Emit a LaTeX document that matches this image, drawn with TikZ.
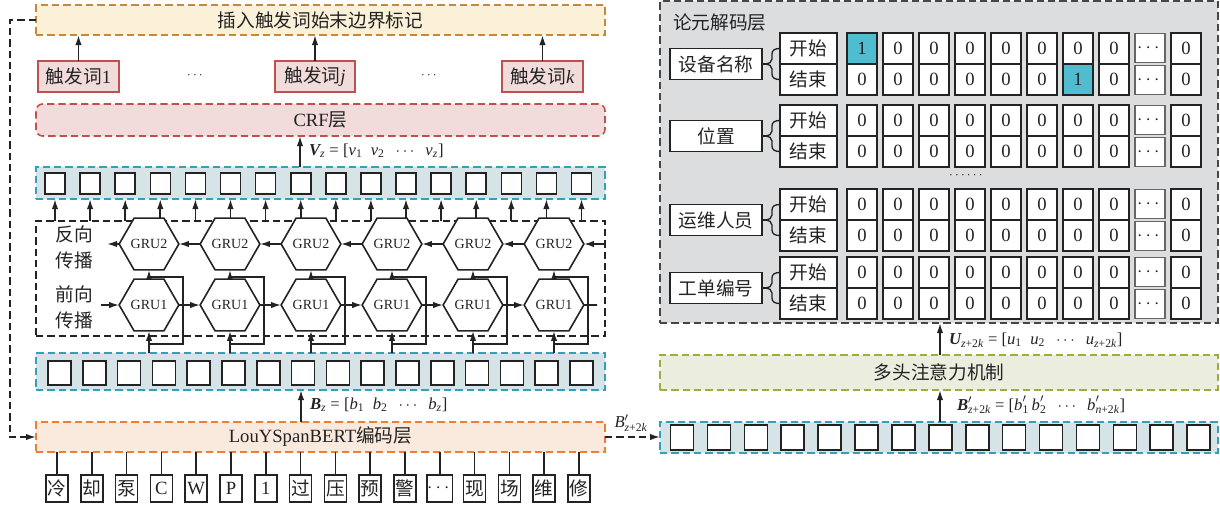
\documentclass[tikz,border=0pt]{standalone}
\usepackage{amsmath}
\usepackage{fontspec}
\setmainfont{Liberation Serif}
\newfontfamily\cjk{Noto Sans CJK SC}
\usetikzlibrary{arrows.meta,shapes.geometric,calc}
\newcommand{\mi}[1]{\text{\itshape #1}}
\newcommand{\mbi}[1]{\text{\bfseries\itshape #1}}
\newcommand{\tx}[1]{\text{#1}}
\definecolor{topfill}{RGB}{251,241,216}
\definecolor{topdraw}{RGB}{196,138,58}
\definecolor{trigfill}{RGB}{242,220,219}
\definecolor{trigdraw}{RGB}{192,80,77}
\definecolor{vecfill}{RGB}{214,228,232}
\definecolor{vecdraw}{RGB}{52,160,184}
\definecolor{bertfill}{RGB}{250,233,221}
\definecolor{bertdraw}{RGB}{240,125,51}
\definecolor{attfill}{RGB}{235,238,222}
\definecolor{attdraw}{RGB}{155,175,63}
\definecolor{decfill}{RGB}{220,221,223}
\definecolor{decdraw}{RGB}{70,70,70}
\definecolor{hl}{RGB}{79,188,208}
\definecolor{ink}{RGB}{35,35,35}
\begin{document}
\begin{tikzpicture}[x=0.75pt,y=-0.75pt,
  every node/.style={inner sep=0pt,outer sep=0pt,text=ink},
  sz/.style 2 args={minimum width=#1*0.75pt,minimum height=#2*0.75pt},
  dsh/.style={line width=1.2pt,dash pattern=on 5.5pt off 3pt},
  bigfont/.style={font=\fontsize{14}{16}\selectfont},
  layer/.style={dsh,bigfont},
  trig/.style={draw=trigdraw,fill=trigfill,line width=1.1pt,bigfont},
  vecbox/.style={dsh,draw=vecdraw,fill=vecfill},
  sqr/.style={draw=ink,fill=white,line width=1.2pt},
  tok/.style={draw=ink,fill=white,line width=1.1pt,sz={22}{27},bigfont},
  hexa/.style={regular polygon,regular polygon sides=6,minimum size=46*0.75pt,draw=ink,line width=1.2pt,fill=white,font=\fontsize{10.5}{11}\selectfont},
  ln/.style={line width=1.25pt,draw=ink},
  arr/.style={ln,-{Latex[length=7.5pt,width=4.8pt]}},
  darr/.style={dsh,draw=ink,-{Latex[length=7.5pt,width=4.8pt]}},
  lab/.style={font=\fontsize{12.5}{14}\selectfont,anchor=west},
  lbox/.style={draw=ink,fill=white,line width=1.1pt,sz={92}{31},bigfont},
  sebox/.style={draw=ink,fill=white,line width=1.0pt,sz={57}{31},bigfont},
  cell/.style={draw=ink,fill=white,line width=1.1pt,sz={30}{31},bigfont},
  hcell/.style={cell,fill=hl},
  dcell/.style={draw=black!60,fill=white,line width=0.8pt,sz={30}{29},bigfont}
]
\useasboundingbox (0,0) rectangle (1220,508);

% ---------------- left column ----------------
\node[layer,draw=topdraw,fill=topfill,sz={569}{30}] (top) at (320.5,20) {{\cjk 插入触发词始末边界标记}};

\node[trig,sz={81}{31}] (t1) at (78.5,76.5) {{\cjk 触发词}1};
\node[trig,sz={80}{31}] (tj) at (315,76.5) {{\cjk 触发词}\textit{j}};
\node[trig,sz={81}{31}] (tk) at (542.5,76.5) {{\cjk 触发词}\textit{k}};
\node (d1) at (196,76) {$\cdots$};
\node (d2) at (430,76) {$\cdots$};
\foreach \n in {t1,tj,tk} \draw[arr] (\n.north) -- (\n |- top.south);

\node[layer,draw=trigdraw,fill=trigfill,rounded corners=5pt,sz={569}{32}] (crf) at (320.5,120) {CRF{\cjk 层}};

\node[vecbox,sz={569}{32}] (vu) at (320.5,183) {};
\foreach \i in {0,...,15} \node[sqr,sz={20}{21}] (u\i) at (55+35.1*\i,183.5) {};
\coordinate (vx) at (300,0);
\draw[arr] (vu.north -| vx) -- (crf.south -| vx);
\node[lab] (vzl) at (309,151) {$\mbi{V}_{\mi{z}}\tx{ = [}\mi{v}_{\tx{1}}\ \ \mi{v}_{\tx{2}}\ \ \cdots\ \ \mi{v}_{\mi{z}}\tx{]}$};

\node[dsh,draw=ink,sz={569}{115}] (bg) at (320.5,278.5) {};
\foreach \i in {0,...,15} \draw[arr] (u\i |- bg.north) -- (u\i |- vu.south);

\node[align=center,font=\fontsize{14}{19}\selectfont] (lb) at (74,247.5) {{\cjk 反向}\\{\cjk 传播}};
\node[align=center,font=\fontsize{14}{19}\selectfont] (lf) at (74,307.5) {{\cjk 前向}\\{\cjk 传播}};

\foreach \i in {0,...,5} {
  \node[hexa] (ga\i) at (149+81*\i,244) {GRU2};
  \node[hexa] (gb\i) at (149+81*\i,305) {GRU1};
}
\draw[arr] (bg.east |- ga5) -- (ga5.east);
\foreach \i [evaluate=\i as \j using int(\i+1)] in {0,...,4} {
  \draw[arr] (ga\j.west) -- (ga\i.east);
  \draw[arr] (gb\i.east) -- (gb\j.west);
}
\coordinate (bl) at (107,244);
\draw[arr] (ga0.west) -- (bl);
\coordinate (fl) at (101,305);
\draw[arr] (fl) -- (gb0.west);
\coordinate (fr) at (597,305);
\draw[ln] (gb5.east) -- (fr);

\node[vecbox,sz={569}{37}] (vl) at (320.5,371.5) {};
\foreach \i in {0,...,15} \node[sqr,sz={23}{24}] (l\i) at (59.5+34.8*\i,373) {};

\foreach \i in {0,...,5} {
  \draw[arr] (gb\i |- vl.north) -- (gb\i.south);
  \coordinate (j\i) at (149+81*\i,344);
  \draw[arr] (j\i) -- ++(34,0) -- ++(0,-67) -- (149+81*\i,277) -- (ga\i.south);
}

\node[layer,draw=bertdraw,fill=bertfill,sz={569}{30}] (bert) at (320.5,437) {LouYSpanBERT{\cjk 编码层}};
\coordinate (bx) at (301,0);
\draw[arr] (bert.north -| bx) -- (vl.south -| bx);
\node[lab] (bzl) at (310,405) {$\mbi{B}_{\mi{z}}\tx{ = [}\mi{b}_{\tx{1}}\ \ \mi{b}_{\tx{2}}\ \ \cdots\ \ \mi{b}_{\mi{z}}\tx{]}$};

\foreach \c [count=\i from 0] in {{\cjk 冷},{\cjk 却},{\cjk 泵},C,W,P,1,{\cjk 过},{\cjk 压},{\cjk 预},{\cjk 警},$\cdots$,{\cjk 现},{\cjk 场},{\cjk 维},{\cjk 修}} {
  \node[tok] (k\i) at (57+34.8*\i,488.5) {\c};
  \draw[ln] (k\i.north) -- (k\i |- bert.south);
}

\draw[darr] (top.west) -- ++(-26,0) |- (bert.west);

% ---------------- right column ----------------
\node[vecbox,sz={558}{31}] (vr) at (939,437.5) {};
\foreach \i in {0,...,14} \node[sqr,sz={23}{25}] (r\i) at (682+36.9*\i,437.5) {};
\draw[darr] (bert.east) -- (vr.west |- bert.east);
\node[font=\fontsize{12.5}{14}\selectfont] (bpl) at (631,423) {$\mi{B}'_{\mi{z}\tx{+2}\mi{k}}$};

\node[layer,draw=attdraw,fill=attfill,sz={558}{35}] (att) at (939,372.5) {{\cjk 多头注意力机制}};
\coordinate (ax) at (940,0);
\draw[arr] (vr.north -| ax) -- (att.south -| ax);
\node[lab] (bpr) at (957,405) {$\mbi{B}'_{\mi{z}\tx{+2}\mi{k}}\tx{ = [}\mi{b}'_{\tx{1}}\,\mi{b}'_{\tx{2}}\ \ \cdots\ \ \mi{b}'_{\mi{n}\tx{+2}\mi{k}}\tx{]}$};

\node[dsh,draw=decdraw,fill=decfill,sz={558}{322}] (dec) at (939,162) {};
\draw[arr] (att.north -| ax) -- (dec.south -| ax);
\node[lab] (ul) at (949,340) {$\mbi{U}_{\mi{z}\tx{+2}\mi{k}}\tx{ = [}\mi{u}_{\tx{1}}\ \ \mi{u}_{\tx{2}}\ \ \cdots\ \ \mi{u}_{\mi{z}\tx{+2}\mi{k}}\tx{]}$};
\node[bigfont,anchor=west] (dtitle) at (673,22) {{\cjk 论元解码层}};
\node (ddots) at (967,176) {$\cdots\cdots$};

\foreach \t/\name [count=\g] in {33/设备名称,105/位置,189/运维人员,257/工单编号} {
  \node[lbox] (lab\g) at (716,\t+31) {{\cjk \name}};
  \node[sebox] (st\g) at (808.5,\t+15.5) {{\cjk 开始}};
  \node[sebox] (en\g) at (808.5,\t+46.5) {{\cjk 结束}};
  \draw[ln,line width=1pt] (st\g.west) .. controls (775,\t+15.5) and (772,\t+17) .. (772,\t+21) -- (772,\t+26)
     .. controls (772,\t+29) and (769,\t+31) .. (766,\t+31)
     .. controls (769,\t+31) and (772,\t+33) .. (772,\t+36) -- (772,\t+41)
     .. controls (772,\t+45) and (775,\t+46.5) .. (en\g.west);
  \draw[ln] (lab\g.east) -- (766,\t+31);
  \foreach \j in {0,...,9} {
    \pgfmathsetmacro\cx{862+36*\j}
    \ifnum\j=8
      \node[dcell] (s\g-\j) at (\cx,\t+15) {$\cdots$};
      \node[dcell] (e\g-\j) at (\cx,\t+47) {$\cdots$};
    \else
      \def\sv{0}\def\sst{cell}\def\ev{0}\def\est{cell}
      \ifnum\g=1 \ifnum\j=0 \def\sv{1}\def\sst{hcell}\fi \ifnum\j=6 \def\ev{1}\def\est{hcell}\fi \fi
      \node[\sst] (s\g-\j) at (\cx,\t+15.5) {\sv};
      \node[\est] (e\g-\j) at (\cx,\t+46.5) {\ev};
    \fi
  }
}
\end{tikzpicture}
\end{document}
